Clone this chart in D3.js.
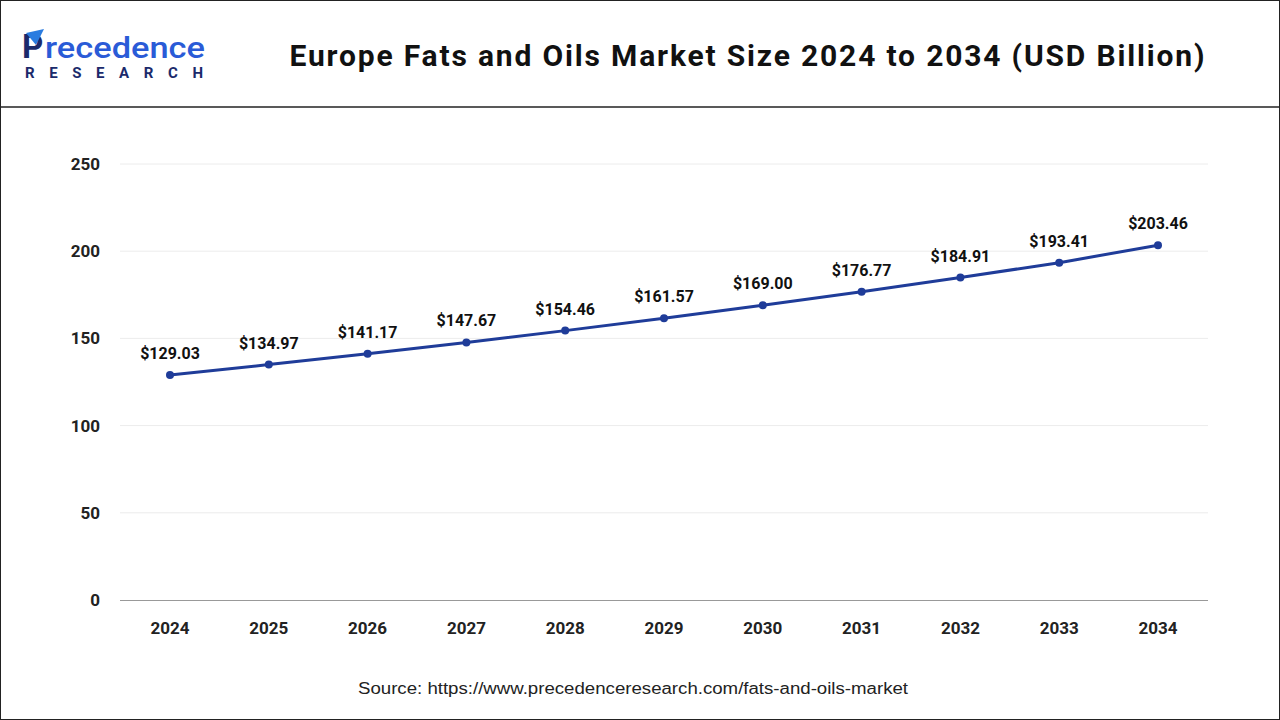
<!DOCTYPE html>
<html><head><meta charset="utf-8">
<script src="https://cdn.jsdelivr.net/npm/d3@7"></script>
<style>body{margin:0;background:#fff}svg{display:block;font-family:Roboto,"Open Sans",sans-serif}</style>
</head><body><svg id="c" width="1280" height="720"></svg>
<script>
const years = ["2024","2025","2026","2027","2028","2029","2030","2031","2032","2033","2034"];
const values = [129.03,134.97,141.17,147.67,154.46,161.57,169.00,176.77,184.91,193.41,203.46];
const yTicks = [0,50,100,150,200,250];

const svg = d3.select("#c");
svg.append("rect").attr("x",0.5).attr("y",0.5).attr("width",1279).attr("height",719).attr("fill","none").attr("stroke","#222");
svg.append("line").attr("x1",0).attr("x2",1280).attr("y1",107).attr("y2",107).attr("stroke","#222").attr("stroke-width",1.5);

// logo
const lg = svg.append("g");
lg.append("text").attr("x",22).attr("y",58).attr("font-size",33).attr("font-weight",700).attr("fill","#1b2a6b").text("P");
lg.append("text").attr("x",45).attr("y",58).attr("font-size",30).attr("fill","#2a5bd7").attr("font-weight",500)
  .attr("textLength",160).attr("lengthAdjust","spacingAndGlyphs").text("recedence");
lg.append("path").attr("d","M26 33 L44 29 L36 45 Z").attr("fill","#2a7ce0");
lg.append("text").attr("x",25).attr("y",78).attr("font-size",15).attr("font-weight",700).attr("fill","#1b2a6b")
  .attr("textLength",178).attr("lengthAdjust","spacing").text("RESEARCH");

svg.append("text").attr("x",747).attr("y",66).attr("text-anchor","middle").attr("font-size",30).attr("font-weight",700).attr("fill","#111")
  .attr("textLength",915).attr("lengthAdjust","spacing").text("Europe Fats and Oils Market Size 2024 to 2034 (USD Billion)");

const x = d3.scalePoint().domain(years).range([170,1158]);
const y = d3.scaleLinear().domain([0,250]).range([600,164]);

svg.append("g").selectAll("line").data(yTicks.slice(1)).join("line")
 .attr("x1",120).attr("x2",1208).attr("y1",d=>y(d)).attr("y2",d=>y(d)).attr("stroke","#ececec");
svg.append("line").attr("x1",120).attr("x2",1208).attr("y1",600.5).attr("y2",600.5).attr("stroke","#999");

svg.append("g").selectAll("text").data(yTicks).join("text")
 .attr("x",100).attr("y",d=>y(d)+6).attr("text-anchor","end").attr("font-size",17).attr("font-weight",700).attr("fill","#222").text(d=>d);
svg.append("g").selectAll("text").data(years).join("text")
 .attr("x",d=>x(d)).attr("y",634).attr("text-anchor","middle").attr("font-size",17).attr("font-weight",700).attr("fill","#222").text(d=>d);

const data = years.map((yr,i)=>({yr,v:values[i]}));
svg.append("path").datum(data).attr("fill","none").attr("stroke","#1f3c99").attr("stroke-width",3)
 .attr("d",d3.line().x(d=>x(d.yr)).y(d=>y(d.v)));
svg.append("g").selectAll("circle").data(data).join("circle")
 .attr("cx",d=>x(d.yr)).attr("cy",d=>y(d.v)).attr("r",4).attr("fill","#1f3c99");
svg.append("g").selectAll("text").data(data).join("text")
 .attr("x",d=>x(d.yr)).attr("y",d=>y(d.v)-16).attr("text-anchor","middle").attr("font-size",16).attr("font-weight",700).attr("fill","#111").text(d=>"$"+d.v.toFixed(2));

svg.append("text").attr("x",633).attr("y",694).attr("text-anchor","middle").attr("font-size",16).attr("fill","#222")
  .attr("font-family","'Liberation Sans',Arial,sans-serif").attr("textLength",550).attr("lengthAdjust","spacingAndGlyphs")
  .text("Source: https://www.precedenceresearch.com/fats-and-oils-market");
</script></body></html>
